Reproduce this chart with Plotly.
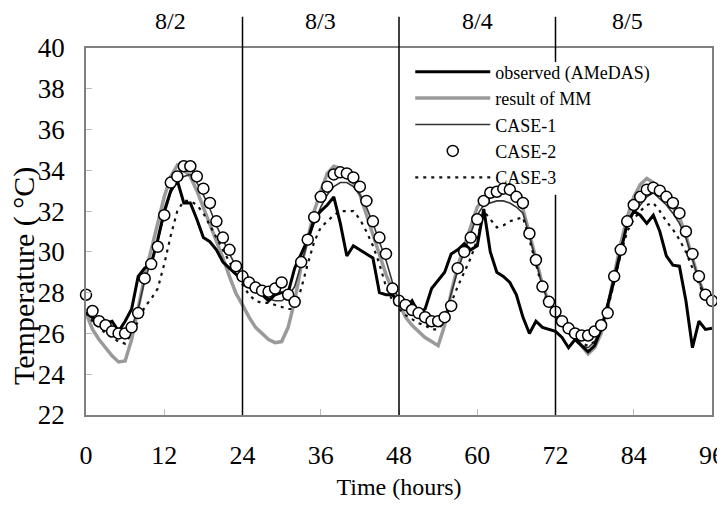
import plotly.graph_objects as go

hours = list(range(0, 97))

observed = [27.0, 26.8, 26.6, 26.5, 26.6, 26.1, 26.6, 27.2, 28.8, 29.2, 29.4, 30.6, 32.0, 33.0, 33.5, 32.4, 32.4, 31.6, 30.7, 30.5, 30.1, 29.5, 29.2, 28.9,
            28.6, 28.3, 28.1, 27.9, 27.6, 27.9, 28.0, 28.0, 29.2, 29.9, 30.6, 31.6, 32.0, 32.3, 32.7, 31.4, 29.8, 30.3, 30.1, 29.9, 29.7, 28.0, 27.9, 27.9,
            27.5, 27.2, 27.6, 27.0, 27.2, 28.2, 28.6, 29.0, 29.9, 30.1, 30.4, 30.1, 30.3, 32.1, 30.0, 29.0, 28.8, 28.5, 27.9, 26.8, 26.0, 26.6, 26.3, 26.2,
            26.1, 25.8, 25.3, 25.7, 25.4, 25.1, 25.4, 26.2, 27.4, 28.6, 30.0, 31.4, 32.0, 31.8, 31.4, 31.8, 31.0, 29.8, 29.35, 29.3, 27.6, 25.3, 26.6, 26.2, 26.25]

mm_result = [27.0, 26.2, 25.7, 25.3, 24.9, 24.6, 24.65, 25.7, 27.3, 28.8, 30.1, 31.4, 32.7, 33.7, 34.25, 34.0, 33.7, 33.0, 32.2, 31.4, 30.6, 29.7, 28.8, 27.96,
             27.4, 26.8, 26.3, 26.0, 25.7, 25.55, 25.6, 26.3, 27.6, 29.3, 30.7, 32.0, 33.0, 33.85, 34.2, 34.1, 33.85, 33.4, 32.8, 31.8, 30.8, 29.8, 28.9, 28.1,
             27.4, 26.8, 26.4, 26.1, 25.8, 25.6, 25.4, 26.4, 28.0, 29.3, 30.3, 31.2, 32.2, 32.6, 32.8, 33.0, 33.1, 32.9, 32.6, 32.1, 30.9, 29.6, 28.4, 27.5,
             27.0, 26.6, 26.2, 25.8, 25.4, 25.0, 25.3, 26.0, 27.3, 28.9, 30.4, 31.7, 32.7, 33.3, 33.6, 33.4, 33.0, 32.5, 32.2, 31.7, 30.8, 29.7, 28.6, 27.8, 27.5]

case1 = [27.0, 26.7, 26.4, 26.2, 26.0, 25.9, 25.9, 26.3, 27.2, 28.6, 29.5, 30.5, 31.8, 32.9, 33.5, 33.7, 33.8, 33.4, 32.8, 32.1, 31.3, 30.6, 29.9, 29.3,
         28.8, 28.4, 28.1, 27.9, 27.7, 27.6, 27.6, 27.8, 28.3, 29.4, 30.5, 31.4, 32.2, 32.8, 33.2, 33.4, 33.4, 33.2, 32.8, 32.2, 31.4, 30.5, 29.6, 28.5,
         27.6, 27.2, 27.0, 26.8, 26.6, 26.5, 26.5, 26.8, 27.9, 29.1, 30.0, 30.9, 31.8, 32.3, 32.4, 32.5, 32.5, 32.4, 32.2, 31.9, 30.8, 29.5, 28.3, 27.5,
         27.0, 26.4, 26.0, 25.7, 25.4, 25.3, 25.6, 26.3, 27.5, 28.9, 30.2, 31.3, 31.9, 32.3, 32.7, 32.9, 32.6, 32.3, 31.9, 31.4, 30.7, 29.6, 28.6, 27.8, 27.5]

case2 = [27.9, 27.1, 26.6, 26.4, 26.1, 26.0, 26.0, 26.3, 27.0, 28.7, 29.4, 30.25, 31.8, 33.4, 33.7, 34.2, 34.2, 33.7, 33.1, 32.4, 31.5, 30.7, 30.1, 29.3,
         28.8, 28.5, 28.25, 28.1, 28.05, 28.2, 28.5, 27.9, 27.55, 29.5, 30.6, 31.7, 32.7, 33.2, 33.8, 33.9, 33.85, 33.65, 33.2, 32.5, 31.5, 30.7, 29.9, 28.2,
         27.6, 27.4, 27.15, 27.0, 26.8, 26.6, 26.6, 26.8, 27.35, 29.2, 30.0, 30.7, 31.6, 32.5, 32.9, 32.95, 33.1, 33.05, 32.7, 32.4, 30.9, 29.6, 28.3, 27.55,
         27.07, 26.6, 26.25, 26.0, 25.9, 25.9, 26.1, 26.4, 27.0, 28.8, 30.1, 31.5, 32.3, 32.7, 33.05, 33.15, 33.0, 32.7, 32.4, 31.9, 31.0, 29.9, 28.8, 27.9, 27.6]

case3 = [27.0, 26.6, 26.3, 26.0, 25.8, 25.6, 25.5, 26.0, 26.6, 27.3, 27.7, 28.2, 29.4, 30.8, 32.0, 32.5, 32.5, 32.3, 31.9, 31.3, 30.7, 30.1, 29.5, 28.9,
         28.4, 27.9, 27.6, 27.5, 27.5, 27.4, 27.3, 27.2, 27.2, 28.2, 29.4, 30.5, 31.2, 31.5, 31.8, 32.0, 32.0, 32.0, 31.6, 31.0, 30.3, 29.4, 28.3, 27.6,
         27.2, 26.9, 26.7, 26.5, 26.4, 26.2, 26.2, 26.6, 27.5, 28.3, 29.0, 29.7, 30.6, 32.0, 31.6, 31.2, 31.3, 31.5, 31.6, 31.7, 30.6, 29.4, 28.2, 27.3,
         26.9, 26.4, 26.0, 25.7, 25.5, 25.4, 25.6, 26.1, 27.2, 28.5, 29.9, 31.0, 31.6, 32.0, 32.3, 32.4, 32.0, 31.5, 31.1, 30.6, 30.0, 29.2, 28.4, 27.8, 27.4]

day_labels = ["8/2", "8/3", "8/4", "8/5"]
day_centers = [13, 36, 60, 83]
day_bounds = [24, 48, 72]
x_ticks = [0, 12, 24, 36, 48, 60, 72, 84, 96]
y_ticks = [22, 24, 26, 28, 30, 32, 34, 36, 38, 40]

FONT = "Liberation Serif, Times New Roman, serif"

fig = go.Figure()
fig.add_trace(go.Scatter(x=hours, y=mm_result, mode="lines", name="result of MM",
                         line=dict(color="#9a9a9a", width=3.5), legendrank=2))
fig.add_trace(go.Scatter(x=hours, y=case1, mode="lines", name="CASE-1",
                         line=dict(color="#333333", width=1.6), legendrank=3))
fig.add_trace(go.Scatter(x=hours, y=case3, mode="lines", name="CASE-3",
                         line=dict(color="#111111", width=2.2, dash="3px,5px"), legendrank=5))
fig.add_trace(go.Scatter(x=hours, y=observed, mode="lines", name="observed (AMeDAS)",
                         line=dict(color="#000000", width=3), legendrank=1))
fig.add_trace(go.Scatter(x=hours, y=case2, mode="markers", name="CASE-2", cliponaxis=False,
                         marker=dict(symbol="circle", size=11, color="white",
                                     line=dict(color="#000000", width=1.5)), legendrank=4))

# day separators (the 8/4-8/5 separator is interrupted by the legend)
for b in day_bounds[:2]:
    fig.add_shape(type="line", xref="x", yref="paper", x0=b, x1=b, y0=0, y1=1.085,
                  line=dict(color="#000000", width=1.5))
fig.add_shape(type="line", xref="x", yref="paper", x0=day_bounds[2], x1=day_bounds[2], y0=0, y1=0.6,
              line=dict(color="#000000", width=1.5))
fig.add_shape(type="line", xref="x", yref="paper", x0=day_bounds[2], x1=day_bounds[2], y0=0.962, y1=1.085,
              line=dict(color="#000000", width=1.5))

for lab, c in zip(day_labels, day_centers):
    fig.add_annotation(x=c, y=1.074, xref="x", yref="paper", text=lab, showarrow=False,
                       font=dict(family=FONT, size=24, color="#000"), yanchor="middle")

fig.add_annotation(x=-0.1, y=0.38, xref="paper", yref="paper", text="Temperature ( °C)",
                   showarrow=False, textangle=-90, xanchor="center", yanchor="middle",
                   font=dict(family=FONT, size=30, color="#000"))

# the page adds an 8px body margin; keep the page height within the window (no scrollbar)
fig.update_layout(
    width=717, height=492,
    margin=dict(l=78, r=13, t=40, b=85),
    paper_bgcolor="white", plot_bgcolor="white",
    font=dict(family=FONT, color="#000"),
    showlegend=True,
    legend=dict(x=0.518, y=0.985, xanchor="left", yanchor="top", bgcolor="rgba(0,0,0,0)",
                font=dict(family=FONT, size=18, color="#000"), tracegroupgap=0,
                itemwidth=75, traceorder="normal"),
    xaxis=dict(range=[0, 96], tickvals=x_ticks, ticks="inside", ticklen=6, tickcolor="#bbbbbb",
               showgrid=False, zeroline=False, showline=True, linecolor="#808080", linewidth=1.5,
               mirror=True, tickfont=dict(family=FONT, size=26), ticklabelstandoff=16,
               automargin=False, ticklabeloverflow="allow",
               title=dict(text="Time (hours)", font=dict(family=FONT, size=24), standoff=16)),
    yaxis=dict(range=[22, 40], tickvals=y_ticks, ticks="inside", ticklen=6, tickcolor="#bbbbbb",
               showgrid=False, zeroline=False, showline=True, linecolor="#808080", linewidth=1.5,
               mirror=True, tickfont=dict(family=FONT, size=27), ticklabelstandoff=14,
               automargin=False, ticklabeloverflow="allow"),
)

fig.write_html("out.html")
